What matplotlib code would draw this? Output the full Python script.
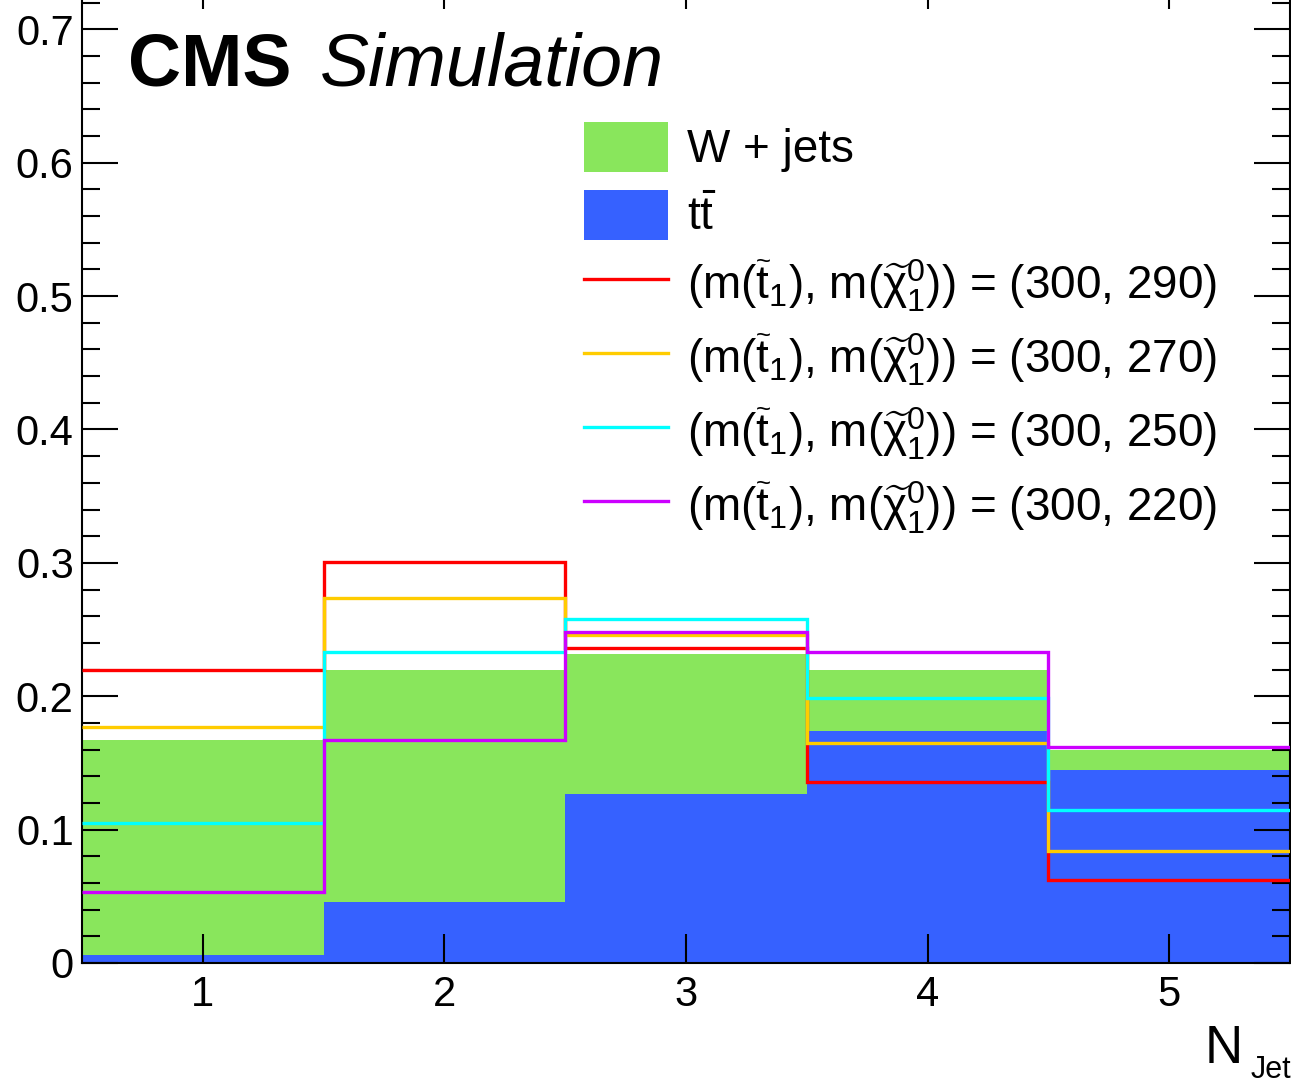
import numpy as np
import matplotlib
matplotlib.use("Agg")
import matplotlib.pyplot as plt
from matplotlib.patches import Patch
from matplotlib.lines import Line2D

# =========================
# DATEN
# =========================
kanten = np.array([0.5, 1.5, 2.5, 3.5, 4.5, 5.5])

ttbar = [0.006, 0.046, 0.127, 0.174, 0.145]
wjets_gesamt = [0.167, 0.220, 0.232, 0.220, 0.160]   # Stapel: ttbar + W+jets

sig_290 = [0.220, 0.301, 0.236, 0.136, 0.062]
sig_270 = [0.177, 0.274, 0.246, 0.165, 0.084]
sig_250 = [0.105, 0.233, 0.258, 0.199, 0.115]
sig_220 = [0.053, 0.167, 0.248, 0.233, 0.162]

signal_punkte = ["(300, 290)", "(300, 270)", "(300, 250)", "(300, 220)"]
signal_farben = ["#ff0000", "#ffcc00", "#00ffff", "#cc00ff"]

gruen = "#89e65c"
blau = "#3661ff"

# =========================
# STIL
# =========================
plt.rcParams["font.family"] = ["Liberation Sans", "DejaVu Sans"]
plt.rcParams["mathtext.fontset"] = "custom"
plt.rcParams["mathtext.rm"] = "Liberation Sans"
plt.rcParams["mathtext.it"] = "Liberation Sans:italic"
plt.rcParams["mathtext.bf"] = "Liberation Sans:bold"

W, H = 1291, 1087
fig = plt.figure(figsize=(W / 100, H / 100), dpi=100)
ax = fig.add_axes([82 / W, 1 - 963 / H, (1290 - 82) / W, (963 + 20) / H])

# =========================
# HISTOGRAMME
# =========================
ax.stairs(wjets_gesamt, kanten, baseline=ttbar, fill=True, color=gruen, lw=0, zorder=1)
ax.stairs(ttbar, kanten, baseline=0, fill=True, color=blau, lw=0, zorder=1)

for werte, farbe in zip([sig_290, sig_270, sig_250, sig_220], signal_farben):
    ax.stairs(werte, kanten, baseline=None, color=farbe, lw=2.4, zorder=3)

ax.set_xlim(0.5, 5.5)
ax.set_ylim(0, 0.737)

ax.set_xticks([1, 2, 3, 4, 5])
ax.set_yticks([0, 0.1, 0.2, 0.3, 0.4, 0.5, 0.6, 0.7])
ax.set_yticklabels(["0", "0.1", "0.2", "0.3", "0.4", "0.5", "0.6", "0.7"])
ax.set_yticks(np.arange(0, 0.74, 0.02), minor=True)

ax.tick_params(axis="both", which="both", direction="in", top=True, right=True,
               labelsize=30, width=1.5, zorder=2)
ax.tick_params(axis="y", which="major", length=26, pad=6)
ax.tick_params(axis="y", which="minor", length=13)
ax.tick_params(axis="x", which="major", length=21, pad=9)
for s in ax.spines.values():
    s.set_linewidth(1.5)

# Achsenbeschriftung N_Jet
fig.text(1243 / W, 1 - 1063 / H, "N", ha="right", va="baseline", fontsize=38)
fig.text(1291 / W, 1 - 1078 / H, "Jet", ha="right", va="baseline", fontsize=22)

# CMS Label
fig.text(128 / W, 1 - 85 / H, "CMS", fontsize=53, fontweight="bold", va="baseline")
fig.text(320 / W, 1 - 85 / H, "Simulation", fontsize=53, fontstyle="italic", va="baseline")

# =========================
# LEGENDE
# =========================
griffe = [Patch(facecolor=gruen, edgecolor="none"), Patch(facecolor=blau, edgecolor="none")]
namen = ["W + jets", r"$\mathrm{t\bar{t}}$"]
for farbe, punkt in zip(signal_farben, signal_punkte):
    griffe.append(Line2D([], [], color=farbe, lw=2.4))
    namen.append(r"(m($\widetilde{\mathrm{t}}_{1}$), m($\widetilde{\mathrm{\chi}}^{0}_{1}$)) = " + punkt)

ax.legend(griffe, namen, loc="upper left", bbox_to_anchor=(584 / W, 1 - 122 / H),
          bbox_transform=fig.transFigure, frameon=False, fontsize=33,
          handlelength=1.84, handleheight=1.31, handletextpad=0.4,
          labelspacing=0.38, borderpad=0, borderaxespad=0)

fig.savefig("out.png", dpi=100)
